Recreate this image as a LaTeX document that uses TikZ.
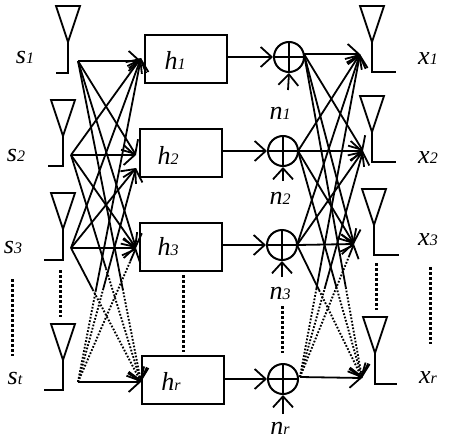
\documentclass[tikz,border=0pt]{standalone}
\usepackage{fontspec}
\setmainfont{Liberation Serif}
\usetikzlibrary{arrows.meta,calc}
\tikzset{
  wire/.style={line width=1.8pt,black},
  arrowwire/.style={wire,-{Straight Barb[length=11pt,width=20pt,line width=1.8pt]}},
  dotwire/.style={line width=1.9pt,black,dash pattern=on 1.7pt off 1.7pt},
  fatdots/.style={line width=3pt,black,dash pattern=on 2.6pt off 2.4pt},
  box/.style={draw,line width=2pt,minimum width=82pt,minimum height=48pt,inner sep=0pt},
  summer/.style={draw,circle,line width=2pt,minimum size=30pt,inner sep=0pt},
  lbl/.style={inner sep=0pt,font=\fontsize{26}{26}\selectfont\itshape},
}
\newcommand{\subs}[1]{{\fontsize{16}{16}\selectfont #1}}
% antenna: x of stem, y of top, y of foot, x of foot end
\newcommand{\aerial}[4]{\draw[wire,line join=miter] (#1-12,#2) -- (#1+12,#2) -- (#1,#2+36) -- cycle;
  \draw[wire] (#1,#2+36) -- (#1,#3) -- (#4,#3);}
% line dotted from a over fraction f, then solid with arrow
\newcommand{\dotsolid}[3]{\draw[dotwire] (#1) -- ($(#1)!#3!(#2)$);
  \draw[arrowwire] ($(#1)!#3!(#2)$) -- (#2);}
% line solid from a over fraction f, then dotted with arrow
\newcommand{\soliddot}[3]{\draw[wire] (#1) -- ($(#1)!#3!(#2)$);
  \draw[dotwire] ($(#1)!#3!(#2)$) -- (#2);
  \draw[arrowwire] ($(#1)!0.985!(#2)$) -- (#2);}
\begin{document}
\begin{tikzpicture}[x=1pt,y=-1pt]
\useasboundingbox (0,0) rectangle (449,439);
% antennas
\aerial{68}{6}{73}{56}
\aerial{63}{100}{166}{48}
\aerial{63}{193}{260}{44}
\aerial{63}{324}{390}{44}
\aerial{372}{6}{72}{396}
\aerial{372}{96}{162}{396}
\aerial{374}{189}{255}{399}
\aerial{375}{317}{384}{397}
% boxes
\node[box] (h1) at (186,58.5) {};
\node[box] (h2) at (180.5,153) {};
\node[box] (h3) at (180.5,246.5) {};
\node[box] (hr) at (183,380) {};
\node[lbl] at (175,60) {h\subs{1}};
\node[lbl] at (168,155) {h\subs{2}};
\node[lbl] at (168,247) {h\subs{3}};
\node[lbl] at (171,381) {h\subs{r}};
% summers
\node[summer] (c1) at (289,57) {};
\node[summer] (c2) at (283,151) {};
\node[summer] (c3) at (282,245) {};
\node[summer] (cr) at (283,379) {};
\foreach \c in {c1,c2,c3,cr}{
  \draw[line width=1.2pt] (\c.north) -- (\c.south) (\c.west) -- (\c.east);
}
% named end points
\coordinate (s1) at (78,61);
\coordinate (s2) at (71,155);
\coordinate (s3) at (71,248);
\coordinate (st) at (78,382);
\coordinate (t1) at (141,58);
\coordinate (t2) at (136,155);
\coordinate (t2b) at (136,168);
\coordinate (t3) at (136,248);
\coordinate (tr) at (141,382);
\coordinate (q1) at (304,54);
\coordinate (q2) at (298,151);
\coordinate (q3) at (297,245);
\coordinate (qr) at (300,377);
\coordinate (u1) at (360,54);
\coordinate (u2) at (363,151);
\coordinate (u3) at (354,244);
\coordinate (ur) at (362,378);
% left mesh
\draw[arrowwire] (s1) -- (s1 -| t1);
\draw[arrowwire] (s1) -- (t2);
\draw[arrowwire] (s1) -- (t3);
\soliddot{s1}{tr}{0.71}
\draw[arrowwire] (s2) -- (t1);
\draw[arrowwire] (s2) -- (t2);
\draw[arrowwire] (s2) -- (t3);
\soliddot{s2}{tr}{0.5}
\draw[arrowwire] (s3) -- (t1);
\draw[arrowwire] (s3) -- (t2b);
\draw[arrowwire] (s3) -- (t3);
\soliddot{s3}{tr}{0.31}
\dotsolid{st}{t1}{0.28}
\dotsolid{st}{t2b}{0.43}
\dotsolid{st}{t3}{0.9}
\draw[arrowwire] (st) -- (tr);
% right mesh
\draw[arrowwire] (q1) -- (u1);
\draw[arrowwire] (q1) -- (u2);
\draw[arrowwire] (q1) -- (u3);
\soliddot{q1}{ur}{0.72}
\draw[arrowwire] (q2) -- (u1);
\draw[arrowwire] (q2) -- (u2);
\draw[arrowwire] (q2) -- (u3);
\soliddot{q2}{ur}{0.6}
\draw[arrowwire] (q3) -- (u1);
\draw[arrowwire] (q3) -- (u2);
\draw[arrowwire] (q3) -- (u3);
\soliddot{q3}{ur}{0.34}
\dotsolid{qr}{u1}{0.27}
\dotsolid{qr}{u2}{0.39}
\dotsolid{qr}{u3}{0.9}
\draw[arrowwire] (qr) -- (ur);
% box to summer
\draw[arrowwire] (c1.west -| h1.east) -- (c1.west);
\draw[arrowwire] (c2.west -| h2.east) -- (c2.west);
\draw[arrowwire] (c3.west -| h3.east) -- (c3.west);
\draw[arrowwire] (cr.west -| hr.east) -- (cr.west);
% noise
\coordinate (n1) at (288,90);
\coordinate (n2) at (283,181);
\coordinate (n3) at (282,277);
\coordinate (nr) at (283,414);
\draw[arrowwire] (n1) -- (c1.south);
\draw[arrowwire] (n2) -- (c2.south);
\draw[arrowwire] (n3) -- (c3.south);
\draw[arrowwire] (nr) -- (cr.south);
% labels
\node[lbl] at (25,58) {s\subs{1}};
\node[lbl] at (16,155) {s\subs{2}};
\node[lbl] at (13,247) {s\subs{3}};
\node[lbl] at (15,378) {s\subs{t}};
\node[lbl] at (280,113) {n\subs{1}};
\node[lbl] at (280,198) {n\subs{2}};
\node[lbl] at (280,293) {n\subs{3}};
\node[lbl] at (280,428) {n\subs{r}};
\node[lbl] at (428,59) {x\subs{1}};
\node[lbl] at (428,158) {x\subs{2}};
\node[lbl] at (428,240) {x\subs{3}};
\node[lbl] at (428,378) {x\subs{r}};
% ellipsis dots
\coordinate (d1a) at (12,279); \coordinate (d1b) at (12,356);
\coordinate (d2a) at (60,270); \coordinate (d2b) at (60,317);
\coordinate (d3a) at (183,275); \coordinate (d3b) at (183,352);
\coordinate (d4a) at (282,306); \coordinate (d4b) at (282,353);
\coordinate (d5a) at (376,263); \coordinate (d5b) at (376,310);
\coordinate (d6a) at (430,267); \coordinate (d6b) at (430,344);
\foreach \d in {d1,d2,d3,d4,d5,d6}{
  \draw[fatdots] (\d a) -- (\d b);
}
\end{tikzpicture}
\end{document}
